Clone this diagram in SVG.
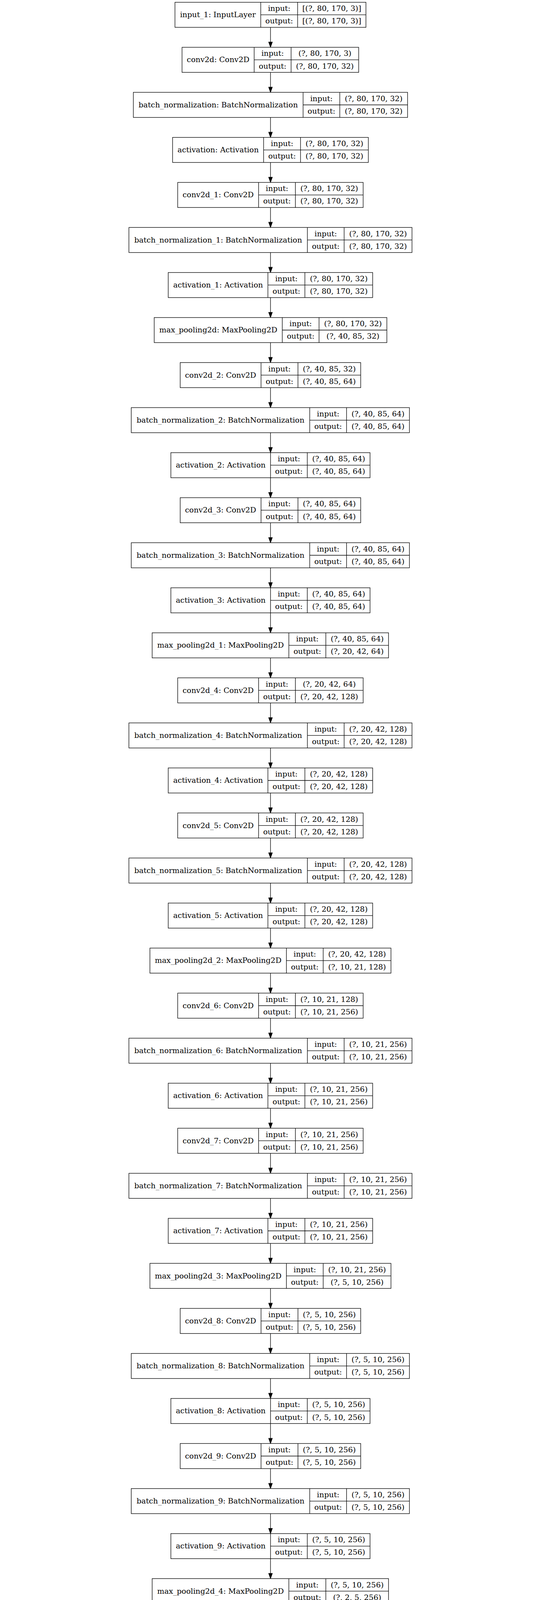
<svg xmlns="http://www.w3.org/2000/svg" width="1386" height="4342" viewBox="0 0 1386 4342">
<style>
.n rect{fill:#fff;stroke:#000;stroke-width:1.33}
.n path{fill:none;stroke:#000;stroke-width:1.33}
.n text{font-family:"DejaVu Serif","Liberation Serif",serif;font-size:19.3px;text-anchor:middle;fill:#000}
.e path{fill:none;stroke:#000;stroke-width:1.33;marker-end:url(#ah)}
</style>
<defs>
<marker id="ah" markerUnits="userSpaceOnUse" markerWidth="16" markerHeight="12" viewBox="-1 -6 16 12" refX="0" refY="0" orient="auto" overflow="visible"><path d="M0,-4.67L13.33,0L0,4.67Z" fill="#000" stroke="#000" stroke-width="1.33"/></marker>
</defs>
<rect x="0" y="0" width="1386" height="4342" fill="#fff"/>
<g id="edges" class="e">
<path d="M693 70V107.77"/><path d="M693 185.3V223.07"/><path d="M693 300.6V338.37"/><path d="M693 415.9V453.67"/><path d="M693 531.2V568.97"/><path d="M693 646.5V684.27"/><path d="M693 761.8V799.57"/><path d="M693 877.1V914.87"/><path d="M693 992.4V1030.17"/><path d="M693 1107.7V1145.47"/><path d="M693 1223V1260.77"/><path d="M693 1338.3V1376.07"/><path d="M693 1453.6V1491.37"/><path d="M693 1568.9V1606.67"/><path d="M693 1684.2V1721.97"/><path d="M693 1799.5V1837.27"/><path d="M693 1914.8V1952.57"/><path d="M693 2030.1V2067.87"/><path d="M693 2145.4V2183.17"/><path d="M693 2260.7V2298.47"/><path d="M693 2376V2413.77"/><path d="M693 2491.3V2529.07"/><path d="M693 2606.6V2644.37"/><path d="M693 2721.9V2759.67"/><path d="M693 2837.2V2874.97"/><path d="M693 2952.5V2990.27"/><path d="M693 3067.8V3105.57"/><path d="M693 3183.1V3220.87"/><path d="M693 3298.4V3336.17"/><path d="M693 3413.7V3451.47"/><path d="M693 3529V3566.77"/><path d="M693 3644.3V3682.07"/><path d="M693 3759.6V3797.37"/><path d="M693 3874.9V3912.67"/><path d="M693 3990.2V4027.97"/><path d="M693 4105.5V4143.27"/>
<path d="M548.9 4220.8L325.83 4269.08"/><path d="M644.2 4220.8L577.06 4264.61"/><path d="M741.8 4220.8L808.94 4264.61"/><path d="M837.1 4220.8L1060.17 4269.08"/>
</g>
<g id="nodes" class="n">
<g id="input_1" transform="translate(0,5.8)"><rect x="448.3" y="0" width="489.2" height="64.2"/><path d="M668 0V64.2M762.5 0V64.2M668 32.1H937.5"/><text x="558.15" y="38.4">input_1: InputLayer</text><text x="715.25" y="22.35">input:</text><text x="715.25" y="54.45">output:</text><text x="850" y="22.35">[(?, 80, 170, 3)]</text><text x="850" y="54.45">[(?, 80, 170, 3)]</text></g>
<g id="conv2d" transform="translate(0,121.1)"><rect x="466.4" y="0" width="452.5" height="64.2"/><path d="M651.2 0V64.2M745.7 0V64.2M651.2 32.1H918.9"/><text x="558.8" y="38.4">conv2d: Conv2D</text><text x="698.45" y="22.35">input:</text><text x="698.45" y="54.45">output:</text><text x="832.3" y="22.35">(?, 80, 170, 3)</text><text x="832.3" y="54.45">(?, 80, 170, 32)</text></g>
<g id="batch_normalization" transform="translate(0,236.4)"><rect x="341.6" y="0" width="702.6" height="64.2"/><path d="M776.5 0V64.2M870.5 0V64.2M776.5 32.1H1044.2"/><text x="559.05" y="38.4">batch_normalization: BatchNormalization</text><text x="823.5" y="22.35">input:</text><text x="823.5" y="54.45">output:</text><text x="957.35" y="22.35">(?, 80, 170, 32)</text><text x="957.35" y="54.45">(?, 80, 170, 32)</text></g>
<g id="activation" transform="translate(0,351.7)"><rect x="442.2" y="0" width="501.4" height="64.2"/><path d="M675.4 0V64.2M769.9 0V64.2M675.4 32.1H943.6"/><text x="558.8" y="38.4">activation: Activation</text><text x="722.65" y="22.35">input:</text><text x="722.65" y="54.45">output:</text><text x="856.75" y="22.35">(?, 80, 170, 32)</text><text x="856.75" y="54.45">(?, 80, 170, 32)</text></g>
<g id="conv2d_1" transform="translate(0,467)"><rect x="455.3" y="0" width="475.1" height="64.2"/><path d="M662.5 0V64.2M756.7 0V64.2M662.5 32.1H930.4"/><text x="558.9" y="38.4">conv2d_1: Conv2D</text><text x="709.6" y="22.35">input:</text><text x="709.6" y="54.45">output:</text><text x="843.55" y="22.35">(?, 80, 170, 32)</text><text x="843.55" y="54.45">(?, 80, 170, 32)</text></g>
<g id="batch_normalization_1" transform="translate(0,582.3)"><rect x="330.3" y="0" width="725.2" height="64.2"/><path d="M787.5 0V64.2M881.6 0V64.2M787.5 32.1H1055.5"/><text x="558.9" y="38.4">batch_normalization_1: BatchNormalization</text><text x="834.55" y="22.35">input:</text><text x="834.55" y="54.45">output:</text><text x="968.55" y="22.35">(?, 80, 170, 32)</text><text x="968.55" y="54.45">(?, 80, 170, 32)</text></g>
<g id="activation_1" transform="translate(0,697.6)"><rect x="431" y="0" width="523.7" height="64.2"/><path d="M686.4 0V64.2M781.1 0V64.2M686.4 32.1H954.7"/><text x="558.7" y="38.4">activation_1: Activation</text><text x="733.75" y="22.35">input:</text><text x="733.75" y="54.45">output:</text><text x="867.9" y="22.35">(?, 80, 170, 32)</text><text x="867.9" y="54.45">(?, 80, 170, 32)</text></g>
<g id="max_pooling2d" transform="translate(0,812.9)"><rect x="395.1" y="0" width="596" height="64.2"/><path d="M723.2 0V64.2M817.4 0V64.2M723.2 32.1H991.1"/><text x="559.15" y="38.4">max_pooling2d: MaxPooling2D</text><text x="770.3" y="22.35">input:</text><text x="770.3" y="54.45">output:</text><text x="904.25" y="22.35">(?, 80, 170, 32)</text><text x="904.25" y="54.45">(?, 40, 85, 32)</text></g>
<g id="conv2d_2" transform="translate(0,928.2)"><rect x="461.6" y="0" width="462.5" height="64.2"/><path d="M668.7 0V64.2M763.4 0V64.2M668.7 32.1H924.1"/><text x="565.15" y="38.4">conv2d_2: Conv2D</text><text x="716.05" y="22.35">input:</text><text x="716.05" y="54.45">output:</text><text x="843.75" y="22.35">(?, 40, 85, 32)</text><text x="843.75" y="54.45">(?, 40, 85, 64)</text></g>
<g id="batch_normalization_2" transform="translate(0,1043.5)"><rect x="336.3" y="0" width="712.6" height="64.2"/><path d="M793.5 0V64.2M887.8 0V64.2M793.5 32.1H1048.9"/><text x="564.9" y="38.4">batch_normalization_2: BatchNormalization</text><text x="840.65" y="22.35">input:</text><text x="840.65" y="54.45">output:</text><text x="968.35" y="22.35">(?, 40, 85, 64)</text><text x="968.35" y="54.45">(?, 40, 85, 64)</text></g>
<g id="activation_2" transform="translate(0,1158.8)"><rect x="437.7" y="0" width="510.3" height="64.2"/><path d="M693.1 0V64.2M787.3 0V64.2M693.1 32.1H948"/><text x="565.4" y="38.4">activation_2: Activation</text><text x="740.2" y="22.35">input:</text><text x="740.2" y="54.45">output:</text><text x="867.65" y="22.35">(?, 40, 85, 64)</text><text x="867.65" y="54.45">(?, 40, 85, 64)</text></g>
<g id="conv2d_3" transform="translate(0,1274.1)"><rect x="461.6" y="0" width="462.5" height="64.2"/><path d="M668.7 0V64.2M763.4 0V64.2M668.7 32.1H924.1"/><text x="565.15" y="38.4">conv2d_3: Conv2D</text><text x="716.05" y="22.35">input:</text><text x="716.05" y="54.45">output:</text><text x="843.75" y="22.35">(?, 40, 85, 64)</text><text x="843.75" y="54.45">(?, 40, 85, 64)</text></g>
<g id="batch_normalization_3" transform="translate(0,1389.4)"><rect x="336.3" y="0" width="712.6" height="64.2"/><path d="M793.5 0V64.2M887.8 0V64.2M793.5 32.1H1048.9"/><text x="564.9" y="38.4">batch_normalization_3: BatchNormalization</text><text x="840.65" y="22.35">input:</text><text x="840.65" y="54.45">output:</text><text x="968.35" y="22.35">(?, 40, 85, 64)</text><text x="968.35" y="54.45">(?, 40, 85, 64)</text></g>
<g id="activation_3" transform="translate(0,1504.7)"><rect x="437.7" y="0" width="510.3" height="64.2"/><path d="M693.1 0V64.2M787.3 0V64.2M693.1 32.1H948"/><text x="565.4" y="38.4">activation_3: Activation</text><text x="740.2" y="22.35">input:</text><text x="740.2" y="54.45">output:</text><text x="867.65" y="22.35">(?, 40, 85, 64)</text><text x="867.65" y="54.45">(?, 40, 85, 64)</text></g>
<g id="max_pooling2d_1" transform="translate(0,1620)"><rect x="389.8" y="0" width="605.6" height="64.2"/><path d="M740 0V64.2M834.7 0V64.2M740 32.1H995.4"/><text x="564.9" y="38.4">max_pooling2d_1: MaxPooling2D</text><text x="787.35" y="22.35">input:</text><text x="787.35" y="54.45">output:</text><text x="915.05" y="22.35">(?, 40, 85, 64)</text><text x="915.05" y="54.45">(?, 20, 42, 64)</text></g>
<g id="conv2d_4" transform="translate(0,1735.3)"><rect x="455.3" y="0" width="475.1" height="64.2"/><path d="M662.5 0V64.2M756.7 0V64.2M662.5 32.1H930.4"/><text x="558.9" y="38.4">conv2d_4: Conv2D</text><text x="709.6" y="22.35">input:</text><text x="709.6" y="54.45">output:</text><text x="843.55" y="22.35">(?, 20, 42, 64)</text><text x="843.55" y="54.45">(?, 20, 42, 128)</text></g>
<g id="batch_normalization_4" transform="translate(0,1850.6)"><rect x="330.3" y="0" width="725.2" height="64.2"/><path d="M787.5 0V64.2M881.6 0V64.2M787.5 32.1H1055.5"/><text x="558.9" y="38.4">batch_normalization_4: BatchNormalization</text><text x="834.55" y="22.35">input:</text><text x="834.55" y="54.45">output:</text><text x="968.55" y="22.35">(?, 20, 42, 128)</text><text x="968.55" y="54.45">(?, 20, 42, 128)</text></g>
<g id="activation_4" transform="translate(0,1965.9)"><rect x="431" y="0" width="523.7" height="64.2"/><path d="M686.4 0V64.2M781.1 0V64.2M686.4 32.1H954.7"/><text x="558.7" y="38.4">activation_4: Activation</text><text x="733.75" y="22.35">input:</text><text x="733.75" y="54.45">output:</text><text x="867.9" y="22.35">(?, 20, 42, 128)</text><text x="867.9" y="54.45">(?, 20, 42, 128)</text></g>
<g id="conv2d_5" transform="translate(0,2081.2)"><rect x="455.3" y="0" width="475.1" height="64.2"/><path d="M662.5 0V64.2M756.7 0V64.2M662.5 32.1H930.4"/><text x="558.9" y="38.4">conv2d_5: Conv2D</text><text x="709.6" y="22.35">input:</text><text x="709.6" y="54.45">output:</text><text x="843.55" y="22.35">(?, 20, 42, 128)</text><text x="843.55" y="54.45">(?, 20, 42, 128)</text></g>
<g id="batch_normalization_5" transform="translate(0,2196.5)"><rect x="330.3" y="0" width="725.2" height="64.2"/><path d="M787.5 0V64.2M881.6 0V64.2M787.5 32.1H1055.5"/><text x="558.9" y="38.4">batch_normalization_5: BatchNormalization</text><text x="834.55" y="22.35">input:</text><text x="834.55" y="54.45">output:</text><text x="968.55" y="22.35">(?, 20, 42, 128)</text><text x="968.55" y="54.45">(?, 20, 42, 128)</text></g>
<g id="activation_5" transform="translate(0,2311.8)"><rect x="431" y="0" width="523.7" height="64.2"/><path d="M686.4 0V64.2M781.1 0V64.2M686.4 32.1H954.7"/><text x="558.7" y="38.4">activation_5: Activation</text><text x="733.75" y="22.35">input:</text><text x="733.75" y="54.45">output:</text><text x="867.9" y="22.35">(?, 20, 42, 128)</text><text x="867.9" y="54.45">(?, 20, 42, 128)</text></g>
<g id="max_pooling2d_2" transform="translate(0,2427.1)"><rect x="384.1" y="0" width="617.5" height="64.2"/><path d="M733.7 0V64.2M828 0V64.2M733.7 32.1H1001.6"/><text x="558.9" y="38.4">max_pooling2d_2: MaxPooling2D</text><text x="780.85" y="22.35">input:</text><text x="780.85" y="54.45">output:</text><text x="914.8" y="22.35">(?, 20, 42, 128)</text><text x="914.8" y="54.45">(?, 10, 21, 128)</text></g>
<g id="conv2d_6" transform="translate(0,2542.4)"><rect x="455.3" y="0" width="475.1" height="64.2"/><path d="M662.5 0V64.2M756.7 0V64.2M662.5 32.1H930.4"/><text x="558.9" y="38.4">conv2d_6: Conv2D</text><text x="709.6" y="22.35">input:</text><text x="709.6" y="54.45">output:</text><text x="843.55" y="22.35">(?, 10, 21, 128)</text><text x="843.55" y="54.45">(?, 10, 21, 256)</text></g>
<g id="batch_normalization_6" transform="translate(0,2657.7)"><rect x="330.3" y="0" width="725.2" height="64.2"/><path d="M787.5 0V64.2M881.6 0V64.2M787.5 32.1H1055.5"/><text x="558.9" y="38.4">batch_normalization_6: BatchNormalization</text><text x="834.55" y="22.35">input:</text><text x="834.55" y="54.45">output:</text><text x="968.55" y="22.35">(?, 10, 21, 256)</text><text x="968.55" y="54.45">(?, 10, 21, 256)</text></g>
<g id="activation_6" transform="translate(0,2773)"><rect x="431" y="0" width="523.7" height="64.2"/><path d="M686.4 0V64.2M781.1 0V64.2M686.4 32.1H954.7"/><text x="558.7" y="38.4">activation_6: Activation</text><text x="733.75" y="22.35">input:</text><text x="733.75" y="54.45">output:</text><text x="867.9" y="22.35">(?, 10, 21, 256)</text><text x="867.9" y="54.45">(?, 10, 21, 256)</text></g>
<g id="conv2d_7" transform="translate(0,2888.3)"><rect x="455.3" y="0" width="475.1" height="64.2"/><path d="M662.5 0V64.2M756.7 0V64.2M662.5 32.1H930.4"/><text x="558.9" y="38.4">conv2d_7: Conv2D</text><text x="709.6" y="22.35">input:</text><text x="709.6" y="54.45">output:</text><text x="843.55" y="22.35">(?, 10, 21, 256)</text><text x="843.55" y="54.45">(?, 10, 21, 256)</text></g>
<g id="batch_normalization_7" transform="translate(0,3003.6)"><rect x="330.3" y="0" width="725.2" height="64.2"/><path d="M787.5 0V64.2M881.6 0V64.2M787.5 32.1H1055.5"/><text x="558.9" y="38.4">batch_normalization_7: BatchNormalization</text><text x="834.55" y="22.35">input:</text><text x="834.55" y="54.45">output:</text><text x="968.55" y="22.35">(?, 10, 21, 256)</text><text x="968.55" y="54.45">(?, 10, 21, 256)</text></g>
<g id="activation_7" transform="translate(0,3118.9)"><rect x="431" y="0" width="523.7" height="64.2"/><path d="M686.4 0V64.2M781.1 0V64.2M686.4 32.1H954.7"/><text x="558.7" y="38.4">activation_7: Activation</text><text x="733.75" y="22.35">input:</text><text x="733.75" y="54.45">output:</text><text x="867.9" y="22.35">(?, 10, 21, 256)</text><text x="867.9" y="54.45">(?, 10, 21, 256)</text></g>
<g id="max_pooling2d_3" transform="translate(0,3234.2)"><rect x="384.1" y="0" width="617.5" height="64.2"/><path d="M733.7 0V64.2M828 0V64.2M733.7 32.1H1001.6"/><text x="558.9" y="38.4">max_pooling2d_3: MaxPooling2D</text><text x="780.85" y="22.35">input:</text><text x="780.85" y="54.45">output:</text><text x="914.8" y="22.35">(?, 10, 21, 256)</text><text x="914.8" y="54.45">(?, 5, 10, 256)</text></g>
<g id="conv2d_8" transform="translate(0,3349.5)"><rect x="461.6" y="0" width="462.5" height="64.2"/><path d="M668.7 0V64.2M763.4 0V64.2M668.7 32.1H924.1"/><text x="565.15" y="38.4">conv2d_8: Conv2D</text><text x="716.05" y="22.35">input:</text><text x="716.05" y="54.45">output:</text><text x="843.75" y="22.35">(?, 5, 10, 256)</text><text x="843.75" y="54.45">(?, 5, 10, 256)</text></g>
<g id="batch_normalization_8" transform="translate(0,3464.8)"><rect x="336.3" y="0" width="712.6" height="64.2"/><path d="M793.5 0V64.2M887.8 0V64.2M793.5 32.1H1048.9"/><text x="564.9" y="38.4">batch_normalization_8: BatchNormalization</text><text x="840.65" y="22.35">input:</text><text x="840.65" y="54.45">output:</text><text x="968.35" y="22.35">(?, 5, 10, 256)</text><text x="968.35" y="54.45">(?, 5, 10, 256)</text></g>
<g id="activation_8" transform="translate(0,3580.1)"><rect x="437.7" y="0" width="510.3" height="64.2"/><path d="M693.1 0V64.2M787.3 0V64.2M693.1 32.1H948"/><text x="565.4" y="38.4">activation_8: Activation</text><text x="740.2" y="22.35">input:</text><text x="740.2" y="54.45">output:</text><text x="867.65" y="22.35">(?, 5, 10, 256)</text><text x="867.65" y="54.45">(?, 5, 10, 256)</text></g>
<g id="conv2d_9" transform="translate(0,3695.4)"><rect x="461.6" y="0" width="462.5" height="64.2"/><path d="M668.7 0V64.2M763.4 0V64.2M668.7 32.1H924.1"/><text x="565.15" y="38.4">conv2d_9: Conv2D</text><text x="716.05" y="22.35">input:</text><text x="716.05" y="54.45">output:</text><text x="843.75" y="22.35">(?, 5, 10, 256)</text><text x="843.75" y="54.45">(?, 5, 10, 256)</text></g>
<g id="batch_normalization_9" transform="translate(0,3810.7)"><rect x="336.3" y="0" width="712.6" height="64.2"/><path d="M793.5 0V64.2M887.8 0V64.2M793.5 32.1H1048.9"/><text x="564.9" y="38.4">batch_normalization_9: BatchNormalization</text><text x="840.65" y="22.35">input:</text><text x="840.65" y="54.45">output:</text><text x="968.35" y="22.35">(?, 5, 10, 256)</text><text x="968.35" y="54.45">(?, 5, 10, 256)</text></g>
<g id="activation_9" transform="translate(0,3926)"><rect x="437.7" y="0" width="510.3" height="64.2"/><path d="M693.1 0V64.2M787.3 0V64.2M693.1 32.1H948"/><text x="565.4" y="38.4">activation_9: Activation</text><text x="740.2" y="22.35">input:</text><text x="740.2" y="54.45">output:</text><text x="867.65" y="22.35">(?, 5, 10, 256)</text><text x="867.65" y="54.45">(?, 5, 10, 256)</text></g>
<g id="max_pooling2d_4" transform="translate(0,4041.3)"><rect x="389.8" y="0" width="605.6" height="64.2"/><path d="M740 0V64.2M834.7 0V64.2M740 32.1H995.4"/><text x="564.9" y="38.4">max_pooling2d_4: MaxPooling2D</text><text x="787.35" y="22.35">input:</text><text x="787.35" y="54.45">output:</text><text x="915.05" y="22.35">(?, 5, 10, 256)</text><text x="915.05" y="54.45">(?, 2, 5, 256)</text></g>
<g id="flatten" transform="translate(0,4156.6)"><rect x="484.5" y="0" width="416.6" height="64.2"/><path d="M658.3 0V64.2M752.7 0V64.2M658.3 32.1H901.1"/><text x="571.4" y="38.4">flatten: Flatten</text><text x="705.5" y="22.35">input:</text><text x="705.5" y="54.45">output:</text><text x="826.9" y="22.35">(?, 2, 5, 256)</text><text x="826.9" y="54.45">(?, 2560)</text></g>
<g id="c1" transform="translate(0,4271.9)"><rect x="7" y="0" width="323.5" height="64.2"/><path d="M125.5 0V64.2M220 0V64.2M125.5 32.1H330.5"/><text x="66.25" y="38.4">c1: Dense</text><text x="172.75" y="22.35">input:</text><text x="172.75" y="54.45">output:</text><text x="275.25" y="22.35">(?, 2560)</text><text x="275.25" y="54.45">(?, 36)</text></g>
<g id="c2" transform="translate(0,4271.9)"><rect x="356.6" y="0" width="323.5" height="64.2"/><path d="M475.1 0V64.2M569.6 0V64.2M475.1 32.1H680.1"/><text x="415.85" y="38.4">c2: Dense</text><text x="522.35" y="22.35">input:</text><text x="522.35" y="54.45">output:</text><text x="624.85" y="22.35">(?, 2560)</text><text x="624.85" y="54.45">(?, 36)</text></g>
<g id="c3" transform="translate(0,4271.9)"><rect x="706.2" y="0" width="323.5" height="64.2"/><path d="M824.7 0V64.2M919.2 0V64.2M824.7 32.1H1029.7"/><text x="765.45" y="38.4">c3: Dense</text><text x="871.95" y="22.35">input:</text><text x="871.95" y="54.45">output:</text><text x="974.45" y="22.35">(?, 2560)</text><text x="974.45" y="54.45">(?, 36)</text></g>
<g id="c4" transform="translate(0,4271.9)"><rect x="1055.8" y="0" width="323.5" height="64.2"/><path d="M1174.3 0V64.2M1268.8 0V64.2M1174.3 32.1H1379.3"/><text x="1115.05" y="38.4">c4: Dense</text><text x="1221.55" y="22.35">input:</text><text x="1221.55" y="54.45">output:</text><text x="1324.05" y="22.35">(?, 2560)</text><text x="1324.05" y="54.45">(?, 36)</text></g>
</g>
</svg>
